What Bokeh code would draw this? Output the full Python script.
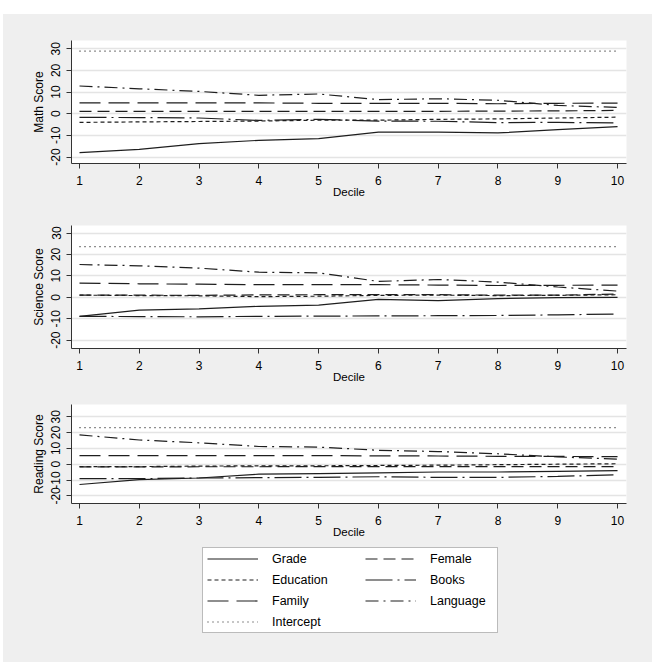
from bokeh.plotting import figure
from bokeh.layouts import column
from bokeh.models import Range1d, FixedTicker, Legend, LegendItem, BoxAnnotation
from bokeh.embed import file_html
from bokeh.resources import INLINE

# Quantile regression coefficients by decile
deciles = [1, 2, 3, 4, 5, 6, 7, 8, 9, 10]

grade_m = [-18.0, -16.5, -13.8, -12.3, -11.5, -8.5, -8.5, -8.9, -7.4, -6.0]
female_m = [1.1, 1.1, 1.1, 1.1, 1.1, 1.1, 1.1, 1.2, 1.3, 1.5]
education_m = [-4.0, -3.8, -3.6, -3.4, -3.0, -3.0, -2.6, -2.4, -2.0, -1.6]
books_m = [-1.7, -1.8, -2.0, -3.1, -2.6, -3.4, -3.5, -4.1, -4.0, -4.3]
family_m = [5.0, 5.0, 5.0, 5.0, 4.8, 4.8, 4.8, 4.6, 4.8, 4.9]
language_m = [12.8, 11.5, 10.3, 8.5, 9.1, 6.5, 6.9, 6.2, 3.8, 2.9]
intercept_m = [28.9] * 10

grade_s = [-8.9, -6.0, -5.4, -4.2, -3.7, -1.0, -1.6, -0.6, -0.2, 0.0]
female_s = [1.0, 1.0, 0.9, 1.1, 1.2, 1.2, 1.2, 1.0, 1.0, 1.5]
education_s = [1.0, 0.8, 0.7, 0.3, 0.5, 0.9, 1.0, 0.8, 0.9, 1.2]
books_s = [-8.9, -9.0, -9.1, -8.9, -8.8, -8.7, -8.6, -8.5, -8.2, -7.8]
family_s = [6.6, 6.3, 6.1, 5.9, 5.9, 5.9, 5.7, 5.5, 5.6, 5.7]
language_s = [15.3, 14.7, 13.6, 11.7, 11.4, 7.4, 8.3, 7.1, 4.8, 2.9]
intercept_s = [23.6] * 10

grade_r = [-12.8, -9.7, -8.7, -6.3, -5.9, -5.5, -4.9, -4.9, -4.5, -4.1]
female_r = [-1.7, -1.7, -1.6, -1.6, -1.5, -1.5, -1.5, -1.5, -1.5, -1.5]
education_r = [-1.5, -1.5, -1.2, -1.0, -1.0, -0.8, -0.6, -0.3, 0.0, 0.3]
books_r = [-9.1, -9.1, -8.7, -8.5, -8.3, -7.9, -8.3, -8.3, -7.7, -6.7]
family_r = [5.4, 5.4, 5.4, 5.4, 5.4, 5.3, 5.2, 5.0, 4.9, 4.8]
language_r = [18.5, 15.3, 13.5, 11.2, 10.8, 8.8, 8.0, 6.6, 4.6, 3.2]
intercept_r = [23.1] * 10

y_ticks = [-20, -10, 0, 10, 20, 30]

series_names = ["Grade", "Female", "Education", "Books", "Family", "Language", "Intercept"]
dashes = {
    "Grade": "solid",
    "Female": "12 6",
    "Education": "4 3",
    "Books": "27 5 2 5",
    "Family": "21 8",
    "Language": "13 5 2 5",
    "Intercept": "1 4",
}

BG = "#efefef"
INK = "#1e1e1e"
FONT = "Liberation Sans"


def style_frame(p):
    p.border_fill_color = BG
    p.outline_line_color = None
    p.min_border_left = 68
    p.min_border_right = 26


def panel(title, data, height, top, bottom, y_range):
    p = figure(width=649, height=height, output_backend="svg", toolbar_location=None,
               x_range=Range1d(0.866, 10.15), y_range=Range1d(*y_range),
               min_border_top=top, min_border_bottom=bottom)
    style_frame(p)
    p.background_fill_color = "white"
    p.xgrid.visible = False
    p.ygrid.grid_line_color = "#e4e4e4"
    p.ygrid.grid_line_width = 1.5
    p.xaxis.ticker = FixedTicker(ticks=deciles)
    p.yaxis.ticker = FixedTicker(ticks=y_ticks)
    p.yaxis.major_label_overrides = {t: str(t) for t in y_ticks}
    p.yaxis.major_label_orientation = "vertical"
    for ax in (p.xaxis, p.yaxis):
        ax.axis_line_color = "#333333"
        ax.major_tick_line_color = "#333333"
        ax.major_tick_out = 5
        ax.major_tick_in = 0
        ax.minor_tick_line_color = None
        ax.major_label_text_font = FONT
        ax.major_label_text_font_size = "12px"
        ax.major_label_text_color = "black"
        ax.axis_label_text_font = FONT
        ax.axis_label_text_font_style = "normal"
        ax.axis_label_text_color = "black"
    p.xaxis.axis_label = "Decile"
    p.xaxis.axis_label_text_font_size = "11.5px"
    p.xaxis.major_label_standoff = 7
    p.xaxis.axis_label_standoff = -2
    p.yaxis.axis_label = title
    p.yaxis.axis_label_text_font_size = "12px"
    p.yaxis.major_label_standoff = 6
    p.yaxis.axis_label_standoff = 3
    for name, ys in zip(series_names, data):
        p.line(deciles, ys, line_color=INK, line_width=1.2, line_dash=dashes[name])
    return p


p1 = panel("Math Score",
           [grade_m, female_m, education_m, books_m, family_m, language_m, intercept_m],
           191, 26, 42, (-23.0, 33.8))
p2 = panel("Science Score",
           [grade_s, female_s, education_s, books_s, family_s, language_s, intercept_s],
           180, 20, 37, (-23.9, 33.5))
p3 = panel("Reading Score",
           [grade_r, female_r, education_r, books_r, family_r, language_r, intercept_r],
           155, 19, 33, (-24.8, 37.7))

# Key panel: pixel-scaled frame so the key box sits at fixed offsets
pl = figure(width=649, height=122, output_backend="svg", toolbar_location=None,
            x_range=Range1d(0, 555), y_range=Range1d(0, 95),
            x_axis_location=None, y_axis_location=None,
            min_border_top=2, min_border_bottom=25)
style_frame(pl)
pl.grid.visible = False
pl.background_fill_color = BG

pl.add_layout(BoxAnnotation(left=131, right=426, bottom=5, top=90,
                            fill_color="white", fill_alpha=1.0,
                            line_color="#333333", line_width=1, level="underlay"))

nan = float("nan")
keys = {}
for name in series_names:
    keys[name] = pl.line([nan], [nan], line_color=INK, line_width=1.2, line_dash=dashes[name])


def make_legend(names, loc):
    lg = Legend(items=[LegendItem(label=n, renderers=[keys[n]]) for n in names],
                location=loc, margin=0, padding=0, spacing=0,
                glyph_width=51, glyph_height=21, label_height=21,
                label_standoff=14, border_line_color=None,
                background_fill_alpha=0.0)
    lg.label_text_font = FONT
    lg.label_text_font_size = "12.5px"
    lg.label_text_color = "black"
    return lg


pl.add_layout(make_legend(["Grade", "Education", "Family", "Intercept"], (136, 5)))
pl.add_layout(make_legend(["Female", "Books", "Language"], (294, 26)))

layout = column(p1, p2, p3, pl, spacing=0, margin=(14, 0, 0, 3),
                styles={"background-color": BG})

open("out.html", "w").write(file_html(layout, INLINE))
